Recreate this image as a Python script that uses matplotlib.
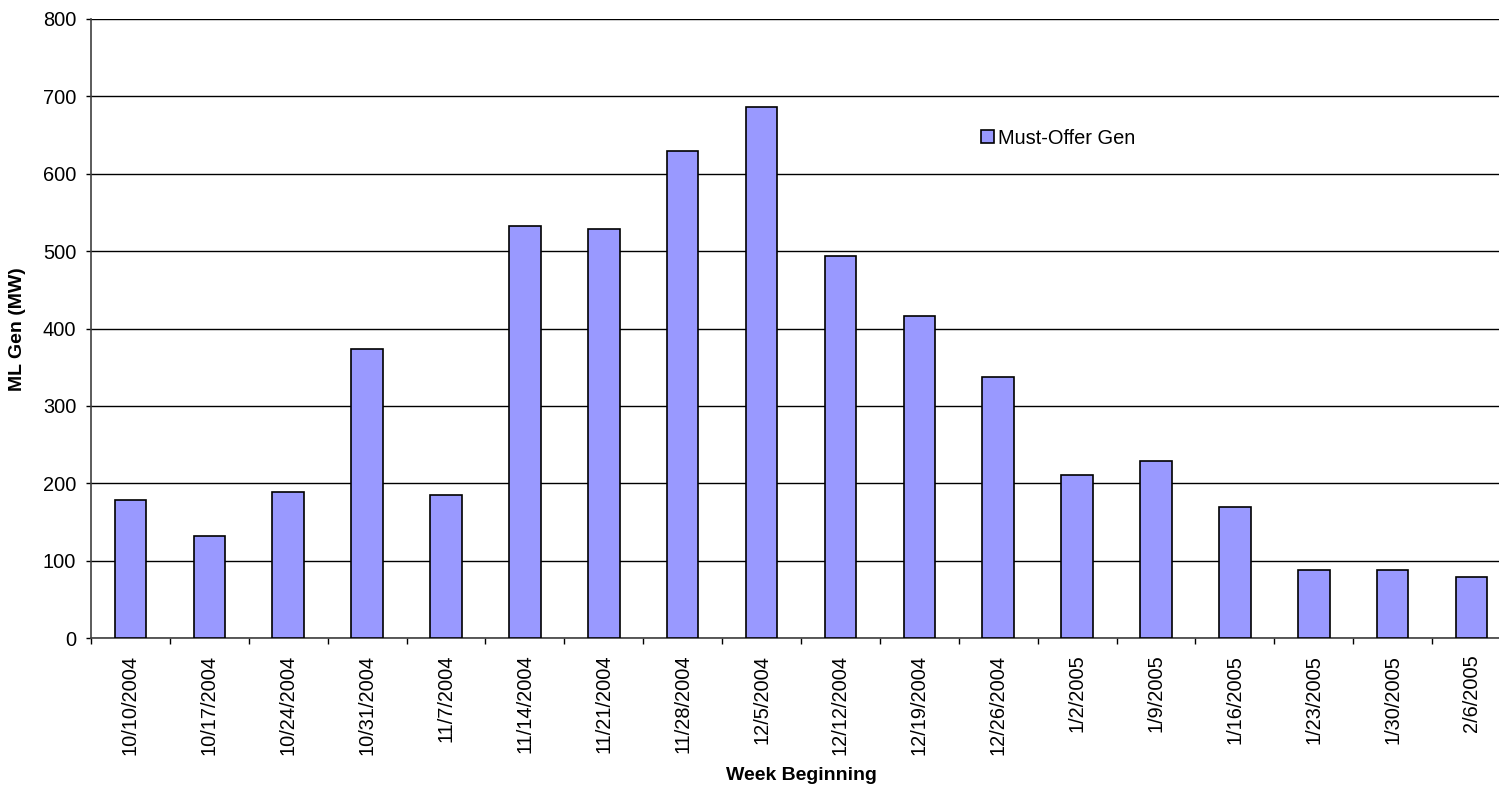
import matplotlib
matplotlib.use("Agg")
import matplotlib.pyplot as plt
import numpy as np

plt.rcParams['font.family'] = ['Liberation Sans', 'DejaVu Sans']

weeks = ["10/10/2004", "10/17/2004", "10/24/2004", "10/31/2004", "11/7/2004",
         "11/14/2004", "11/21/2004", "11/28/2004", "12/5/2004", "12/12/2004",
         "12/19/2004", "12/26/2004", "1/2/2005", "1/9/2005", "1/16/2005",
         "1/23/2005", "1/30/2005", "2/6/2005"]
must_offer_gen = [178, 132, 189, 373, 185, 532, 528, 630, 686, 494,
                  416, 337, 211, 229, 169, 88, 88, 79]
y_ticks = [0, 100, 200, 300, 400, 500, 600, 700, 800]

W, H = 1499, 787
fig = plt.figure(figsize=(W / 100, H / 100), dpi=100)
ax = fig.add_axes([91 / W, 149 / H, 1420 / W, 619 / H])

x = np.arange(len(weeks))
ax.bar(x, must_offer_gen, width=0.4, color="#9999FF", edgecolor="black",
       linewidth=1.2, label="Must-Offer Gen", zorder=3)

ax.set_xlim(-0.5, len(weeks) - 0.5)
ax.set_ylim(0, 800)
ax.set_yticks(y_ticks)
ax.yaxis.grid(True, color="black", linewidth=1.0, zorder=0)
ax.tick_params(axis="y", direction="out", length=3.6, width=1, labelsize=14.4, pad=7)

ax.set_xticks(x)
ax.set_xticklabels(weeks, rotation=90, fontsize=14.4)
ax.tick_params(axis="x", which="major", length=0, pad=12)
ax.set_xticks(np.arange(len(weeks) + 1) - 0.5, minor=True)
ax.tick_params(axis="x", which="minor", direction="out", length=4.3, width=1)

for side in ["top", "right"]:
    ax.spines[side].set_visible(False)
for side in ["left", "bottom"]:
    ax.spines[side].set_color("#404040")
    ax.spines[side].set_linewidth(1.2)

fig.text(18 / W, 1 - 329 / H, "ML Gen (MW)", rotation=90, ha="center", va="center",
         fontsize=14, fontweight="bold")
fig.text(801 / W, 1 - 776 / H, "Week Beginning", ha="center", va="center",
         fontsize=14, fontweight="bold")

ax.legend(loc="center left", bbox_to_anchor=(981 / W, 1 - 138 / H),
          bbox_transform=fig.transFigure, frameon=False, fontsize=14.4,
          borderpad=0, borderaxespad=0, handlelength=0.65, handleheight=0.65,
          handletextpad=0.2)

fig.savefig("out.png", dpi=100)
